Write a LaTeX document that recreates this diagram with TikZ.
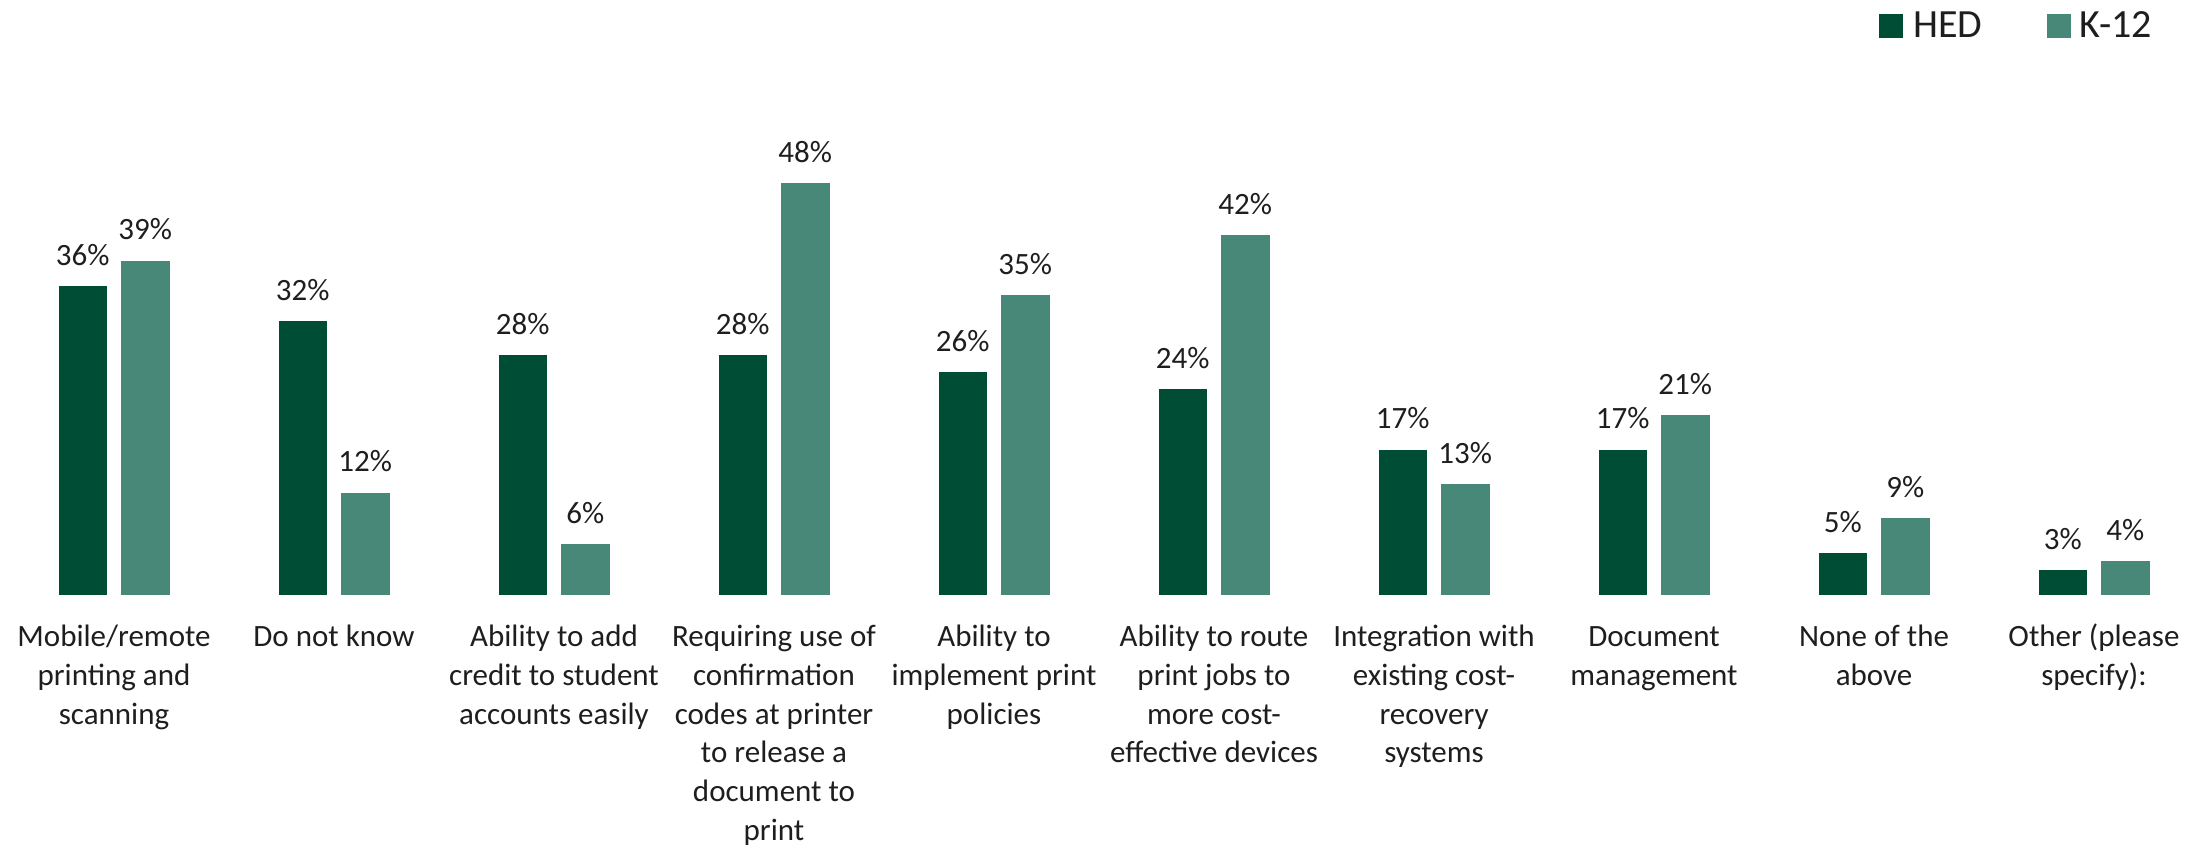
\documentclass[tikz,border=0pt]{standalone}
\usepackage{fontspec}
\setmainfont{Carlito}
\definecolor{hed}{RGB}{0,77,54}
\definecolor{kt}{RGB}{72,136,120}
\definecolor{txt}{RGB}{30,30,30}
\begin{document}
\begin{tikzpicture}[x=1pt,y=-1pt,
  hedbar/.style={fill=hed,draw=white,line width=0.8pt},
  ktbar/.style={fill=kt,draw=white,line width=0.8pt},
  val/.style={anchor=base,inner sep=0pt,text=txt,font=\fontsize{31}{38}\selectfont},
  cat/.style={anchor=base,inner sep=0pt,text=txt,font=\fontsize{31}{38.8}\selectfont},
  leg/.style={anchor=base west,inner sep=0pt,text=txt,font=\fontsize{40}{48}\selectfont},
  legbox/.style={minimum size=24pt,inner sep=0pt,draw=none}]
\useasboundingbox (0,0) rectangle (2211,846);
\foreach \i/\h/\k/\t in {
  0/36/39/{Mobile/remote\\printing and\\scanning},
  1/32/12/{Do not know},
  2/28/6/{Ability to add\\credit to student\\accounts easily},
  3/28/48/{Requiring use of\\confirmation\\codes at printer\\to release a\\document to\\print},
  4/26/35/{Ability to\\implement print\\policies},
  5/24/42/{Ability to route\\print jobs to\\more cost-\\effective devices},
  6/17/13/{Integration with\\existing cost-\\recovery\\systems},
  7/17/21/{Document\\management},
  8/5/9/{None of the\\above},
  9/3/4/{Other (please\\specify):}}{
  \pgfmathsetmacro{\xh}{58+220*\i}
  \pgfmathsetmacro{\xk}{120.5+220*\i}
  \pgfmathsetmacro{\th}{595-8.59*\h}
  \pgfmathsetmacro{\tk}{595-8.59*\k}
  \path[hedbar] (\xh,595) rectangle (\xh+49.5,\th);
  \path[ktbar] (\xk,595) rectangle (\xk+49.5,\tk);
  \node[val] (hv\i) at (\xh+24.75,\th-20) {\h\%};
  \node[val] (kv\i) at (\xk+24.75,\tk-20) {\k\%};
  \node[cat] (cat\i) at (114+220*\i,646.5) {\begin{tabular}[t]{@{}c@{}}\t\end{tabular}};
}
\node[legbox,fill=hed] (legh) at (1891,26) {};
\node[leg] (leght) at (1913,37.5) {HED};
\node[legbox,fill=kt] (legk) at (2059,26) {};
\node[leg] (legkt) at (2079,37.5) {K-12};
\end{tikzpicture}
\end{document}
